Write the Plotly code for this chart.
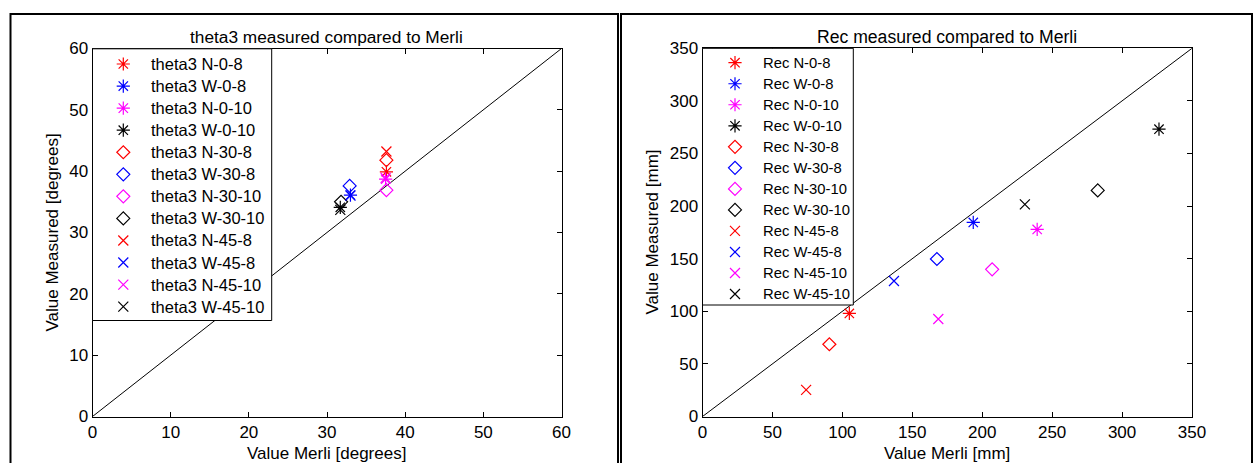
import plotly.graph_objects as go

W, H = 1257, 463

# ---------------- data ----------------
series_labels = ["N-0-8", "W-0-8", "N-0-10", "W-0-10",
                 "N-30-8", "W-30-8", "N-30-10", "W-30-10",
                 "N-45-8", "W-45-8", "N-45-10", "W-45-10"]
series_colors = ["#ff0000", "#0000ff", "#ff00ff", "#000000"] * 3
series_symbols = ["asterisk-open"] * 4 + ["diamond-open"] * 4 + ["x-thin-open"] * 4

theta3_merli = [37.6, 33.0, 37.5, 31.7, 37.6, 32.9, 37.6, 31.8, 37.6, 33.0, 37.5, 31.7]
theta3_measured = [39.9, 36.1, 38.7, 34.1, 41.8, 37.6, 36.9, 35.0, 43.2, 36.0, 38.9, 33.7]

rec_merli = [105.0, 193.6, 239.3, 326.4, 90.7, 167.6, 207.1, 282.6, 74.1, 136.9, 168.6, 230.5]
rec_measured = [98.0, 184.5, 177.8, 273.1, 68.7, 149.7, 139.9, 214.9, 25.3, 128.8, 92.7, 201.6]

theta_ticks = [0, 10, 20, 30, 40, 50, 60]
rec_ticks = [0, 50, 100, 150, 200, 250, 300, 350]

FONT = "Liberation Sans, Arial, sans-serif"
FS = 17

fig = go.Figure()


def px(p):
    return p / W


def py(p):
    return 1 - p / H


def sym_size(sym):
    if sym.startswith("asterisk"):
        return 11
    if sym.startswith("diamond"):
        return 10
    return 10


LW = 1.2

# diagonal reference lines
fig.add_trace(go.Scatter(x=[theta_ticks[0], theta_ticks[-1]], y=[theta_ticks[0], theta_ticks[-1]],
                         mode="lines", line=dict(color="black", width=1),
                         xaxis="x", yaxis="y", showlegend=False, hoverinfo="skip"))
fig.add_trace(go.Scatter(x=[rec_ticks[0], rec_ticks[-1]], y=[rec_ticks[0], rec_ticks[-1]],
                         mode="lines", line=dict(color="black", width=1),
                         xaxis="x2", yaxis="y2", showlegend=False, hoverinfo="skip"))

for i, lab in enumerate(series_labels):
    mk = dict(symbol=series_symbols[i], size=sym_size(series_symbols[i]),
              color=series_colors[i], line=dict(color=series_colors[i], width=LW))
    fig.add_trace(go.Scatter(x=[theta3_merli[i]], y=[theta3_measured[i]], mode="markers",
                             marker=mk, xaxis="x", yaxis="y", showlegend=False,
                             name="theta3 " + lab))
    fig.add_trace(go.Scatter(x=[rec_merli[i]], y=[rec_measured[i]], mode="markers",
                             marker=mk, xaxis="x2", yaxis="y2", showlegend=False,
                             name="Rec " + lab))

# ---------------- manual legends (pixel overlay axis) ----------------
legends = [
    dict(prefix="theta3 ", box=(92.5, 271.7, 48.8, 320.5), row0=64.0, dy=22.06, mx=123.3, tx=149.0, fs=16.5),
    dict(prefix="Rec ", box=(702.5, 853.3, 48.3, 305.0), row0=62.7, dy=21.03, mx=735.0, tx=761.0, fs=14.8),
]
annotations = []
for lg in legends:
    x0, x1, y0, y1 = lg["box"]
    fig.add_trace(go.Scatter(x=[x0, x1, x1, x0, x0], y=[y0, y0, y1, y1, y0], mode="lines",
                             fill="toself", fillcolor="white",
                             line=dict(color="black", width=1),
                             xaxis="x3", yaxis="y3", showlegend=False, hoverinfo="skip"))
    for i, lab in enumerate(series_labels):
        ry = lg["row0"] + lg["dy"] * i
        fig.add_trace(go.Scatter(x=[lg["mx"]], y=[ry], mode="markers",
                                 marker=dict(symbol=series_symbols[i], size=sym_size(series_symbols[i]),
                                             color=series_colors[i],
                                             line=dict(color=series_colors[i], width=LW)),
                                 xaxis="x3", yaxis="y3", showlegend=False, hoverinfo="skip"))
        annotations.append(dict(x=px(lg["tx"]), y=py(ry), xref="paper", yref="paper",
                                text=lg["prefix"] + lab, showarrow=False, xanchor="left",
                                yanchor="middle", font=dict(family=FONT, size=lg["fs"], color="black")))

# titles and axis titles
def add_text(x, y, text, angle=0, size=FS):
    annotations.append(dict(x=px(x), y=py(y), xref="paper", yref="paper", text=text,
                            showarrow=False, xanchor="center", yanchor="middle", textangle=angle,
                            font=dict(family=FONT, size=size, color="black")))

add_text(326.5, 37, "theta3 measured compared to Merli", size=17.3)
add_text(947, 37, "Rec measured compared to Merli", size=17.6)
add_text(326.5, 453, "Value Merli [degrees]")
add_text(947, 453, "Value Merli [mm]")
add_text(52, 232.5, "Value Measured [degrees]", -90)
add_text(652, 232.5, "Value Measured [mm]", -90)

axis_common = dict(showline=True, linecolor="black", linewidth=1, mirror="ticks",
                   ticks="inside", ticklen=5, tickcolor="black", tickwidth=1,
                   showgrid=False, zeroline=False, fixedrange=True, automargin=False,
                   tickfont=dict(family=FONT, size=FS, color="black"))

fig.update_layout(
    width=W, height=H,
    margin=dict(l=0, r=0, t=0, b=0, pad=0, autoexpand=False),
    paper_bgcolor="white", plot_bgcolor="rgba(0,0,0,0)",
    showlegend=False,
    annotations=annotations,
    xaxis=dict(domain=[px(92.5), px(561.5)], range=[theta_ticks[0], theta_ticks[-1]],
               tickvals=theta_ticks, anchor="y", **axis_common),
    yaxis=dict(domain=[py(416.5), py(48.5)], range=[theta_ticks[0], theta_ticks[-1]],
               tickvals=theta_ticks, anchor="x", **axis_common),
    xaxis2=dict(domain=[px(702.5), px(1192)], range=[rec_ticks[0], rec_ticks[-1]],
                tickvals=rec_ticks, anchor="y2", **axis_common),
    yaxis2=dict(domain=[py(416.5), py(48.3)], range=[rec_ticks[0], rec_ticks[-1]],
                tickvals=rec_ticks, anchor="x2", **axis_common),
    xaxis3=dict(domain=[0, 1], range=[0, W], visible=False, anchor="y3", fixedrange=True),
    yaxis3=dict(domain=[0, 1], range=[H, 0], visible=False, anchor="x3", fixedrange=True),
    shapes=[
        dict(type="rect", xref="paper", yref="paper", x0=px(10.5), x1=px(618), y0=-0.2, y1=py(14),
             line=dict(color="black", width=2), fillcolor="rgba(0,0,0,0)", layer="below"),
        dict(type="rect", xref="paper", yref="paper", x0=px(621), x1=px(1252), y0=-0.2, y1=py(14),
             line=dict(color="black", width=2), fillcolor="rgba(0,0,0,0)", layer="below"),
    ],
)

fig.write_html("out.html", config={"displayModeBar": False},
               post_script="document.body.style.margin='0';document.body.style.overflow='hidden';")
